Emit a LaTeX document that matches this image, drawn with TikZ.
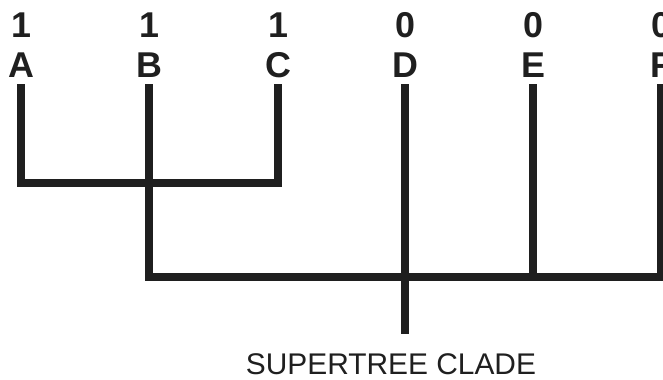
\documentclass[tikz,border=0pt]{standalone}
\usepackage{fontspec}
\setmainfont{Liberation Sans}
\begin{document}
\begin{tikzpicture}[x=1bp,y=1bp,
  branch/.style={line width=8bp, color=black!88, line cap=butt, line join=miter},
  tip/.style={font=\fontsize{36}{36}\selectfont\bfseries, text=black!88, inner sep=0pt, anchor=base},
  caption/.style={font=\fontsize{30}{30}\selectfont, text=black!88, inner sep=0pt, text depth=0pt, anchor=base}]
\useasboundingbox (0,0) rectangle (663,379);
\clip (0,0) rectangle (663,379);
% tip labels
\foreach \n/\x/\v in {A/21/1, B/149/1, C/278/1, D/405/0, E/533/0, F/661/0}{
  \node[tip] (v\n) at (\x,342) {\v};
  \node[tip] (l\n) at (\x,302) {\n};
  \coordinate (t\n) at (\x,295);
}
% internal nodes
\coordinate (abcL) at (21,196);
\coordinate (abcR) at (278,196);
\coordinate (rootB) at (149,102);
\coordinate (rootD) at (405,102);
\coordinate (rootE) at (533,102);
\coordinate (rootF) at (661,102);
\coordinate (stem) at (405,45);
% branches
\draw[branch] (tA) -- (abcL) -- (abcR) -- (tC);
\draw[branch] (tB) -- (rootB) -- (rootF) -- (tF);
\draw[branch] (tD) -- (stem);
\draw[branch] (tE) -- (rootE);
% caption
\node[caption] (cap) at (391,5) {SUPERTREE CLADE};
\end{tikzpicture}
\end{document}
